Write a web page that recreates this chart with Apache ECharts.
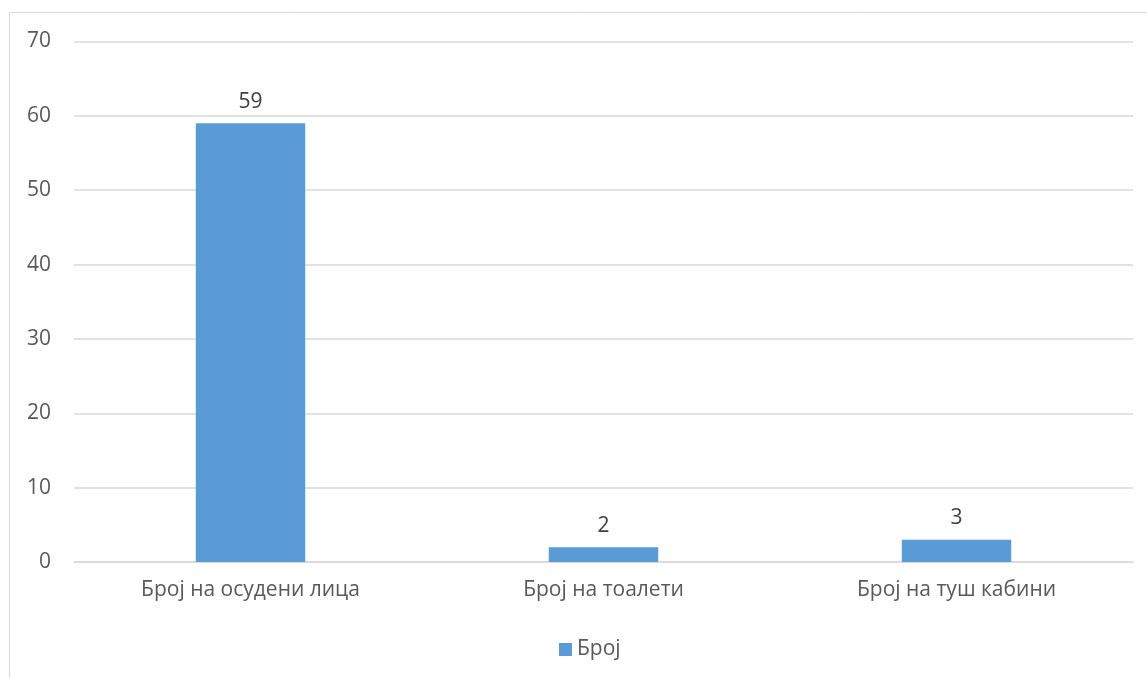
<!DOCTYPE html>
<html>
<head>
<meta charset="utf-8">
<script src="https://cdn.jsdelivr.net/npm/echarts@6/dist/echarts.min.js"></script>
<style>
  html, body { margin: 0; padding: 0; background: #fff; }
  #main { width: 1147px; height: 678px; }
</style>
</head>
<body>
<div id="main"></div>
<script>
// податоци од графиконот
var categories = ['Број на осудени лица', 'Број на тоалети', 'Број на туш кабини'];
var values = [59, 2, 3];
var seriesName = 'Број';
var yTicks = [0, 70, 10]; // min, max, interval

var font = '"Open Sans", "Noto Sans", sans-serif';
var myChart = echarts.init(document.getElementById('main'));

var option = {
    animation: false,
    backgroundColor: '#fff',
    textStyle: { fontFamily: font },
    graphic: [{
        type: 'rect',
        shape: { x: 9.5, y: 12.5, width: 1200, height: 700 },
        style: { fill: 'none', stroke: '#d9d9d9', lineWidth: 1 },
        silent: true
    }],
    grid: { left: 74, right: 14, top: 41.5, bottom: 116, containLabel: false },
    legend: {
        data: [seriesName],
        bottom: 13,
        left: 554,
        itemWidth: 13,
        itemHeight: 13,
        itemGap: 6,
        icon: 'rect',
        textStyle: { color: '#595959', fontSize: 21, fontFamily: font }
    },
    xAxis: {
        type: 'category',
        data: categories,
        axisLine: { lineStyle: { color: '#d9d9d9', width: 1.5 } },
        axisTick: { show: false },
        axisLabel: { color: '#595959', fontSize: 21, margin: 18, fontFamily: font }
    },
    yAxis: {
        type: 'value',
        min: yTicks[0],
        max: yTicks[1],
        interval: yTicks[2],
        axisLine: { show: false },
        axisTick: { show: false },
        splitLine: { lineStyle: { color: '#d9d9d9', width: 1.5 } },
        axisLabel: { color: '#595959', fontSize: 21, margin: 23, fontFamily: font }
    },
    series: [{
        name: seriesName,
        type: 'bar',
        data: values,
        barWidth: '31%',
        itemStyle: { color: '#5b9bd5' },
        label: {
            show: true,
            position: 'top',
            distance: 11,
            color: '#404040',
            fontSize: 21,
            fontFamily: font
        }
    }]
};

myChart.setOption(option);
</script>
</body>
</html>
